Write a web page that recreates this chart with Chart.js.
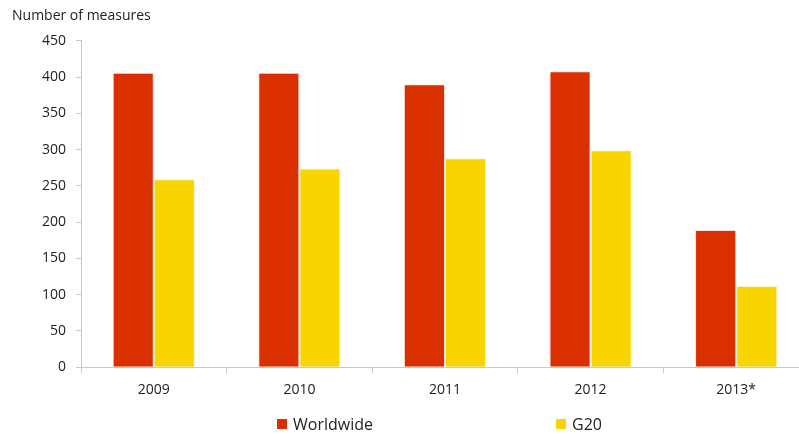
<!DOCTYPE html>
<html>
<head>
<meta charset="utf-8">
<script src="https://cdn.jsdelivr.net/npm/chart.js@4"></script>
<style>
  html, body { margin: 0; padding: 0; background: #fff; overflow: hidden; }
  #wrap { width: 812px; height: 434px; position: relative; }
</style>
</head>
<body>
<div id="wrap"><canvas id="c"></canvas></div>
<script>
const categories = ["2009", "2010", "2011", "2012", "2013*"];
const worldwide = [406, 406, 390, 408, 189];
const g20 = [259, 274, 288, 299, 112];
const yMax = 450;
const yStep = 50;
const axisTitle = "Number of measures";
const seriesNames = ["Worldwide", "G20"];

const FONT = "'Open Sans', 'Liberation Sans', sans-serif";

// custom legend: wide horizontal spacing, drawn at the bottom
const spacedLegend = {
  id: 'spacedLegend',
  afterDraw(chart) {
    const ctx = chart.ctx;
    const xs = [277, 556];
    const yC = 424;
    ctx.save();
    ctx.font = "16px " + FONT;
    ctx.textBaseline = 'middle';
    ctx.textAlign = 'left';
    chart.data.datasets.forEach((ds, i) => {
      ctx.fillStyle = ds.backgroundColor;
      ctx.fillRect(xs[i], yC - 5, 10, 10);
      ctx.fillStyle = '#222';
      ctx.fillText(ds.label, xs[i] + 16, yC + 1);
    });
    ctx.restore();
  }
};

new Chart(document.getElementById('c'), {
  type: 'bar',
  data: {
    labels: categories,
    datasets: [
      { label: seriesNames[0], data: worldwide, backgroundColor: '#DA3000', borderColor: '#F6E0DA', borderWidth: 1 },
      { label: seriesNames[1], data: g20, backgroundColor: '#F9D500', borderColor: '#FBF1C8', borderWidth: 1 }
    ]
  },
  options: {
    responsive: true,
    maintainAspectRatio: false,
    animation: false,
    layout: { padding: { left: 12, right: 3, top: 6, bottom: 28 } },
    datasets: { bar: { categoryPercentage: 0.565, barPercentage: 1.0 } },
    plugins: {
      title: {
        display: true, text: axisTitle, align: 'start', color: '#222',
        font: { family: FONT, size: 14, weight: 'normal' }, padding: { top: 2, bottom: 16 }
      },
      legend: { display: false },
      tooltip: { enabled: false }
    },
    scales: {
      x: {
        grid: { display: true, drawOnChartArea: false, drawTicks: true, tickLength: 6, color: '#c8c8c8', offset: true },
        border: { color: '#c8c8c8' },
        ticks: { color: '#222', font: { family: FONT, size: 14 }, padding: 8 }
      },
      y: {
        min: 0, max: yMax,
        afterFit: (s) => { s.width = 69; },
        grid: { display: true, drawOnChartArea: false, drawTicks: true, tickLength: 5, color: '#c8c8c8' },
        border: { color: '#c8c8c8' },
        ticks: { stepSize: yStep, autoSkip: false, color: '#222', font: { family: FONT, size: 14 }, padding: 10 }
      }
    }
  },
  plugins: [spacedLegend]
});
</script>
</body>
</html>
